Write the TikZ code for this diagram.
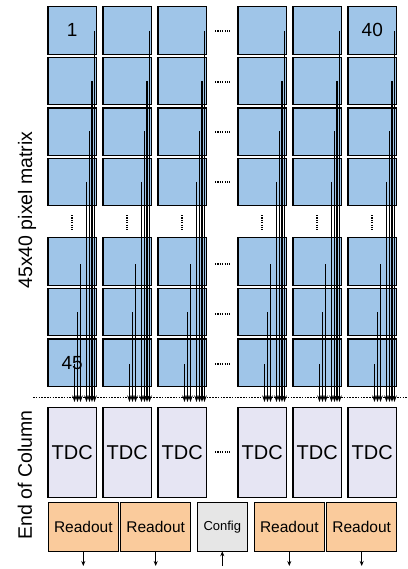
\documentclass[tikz,border=0pt]{standalone}
\usepackage{fontspec}
\setmainfont{Liberation Sans}
\usetikzlibrary{arrows.meta}
\definecolor{pixblue}{HTML}{9FC5E8}
\definecolor{tdcfill}{HTML}{E6E5F3}
\definecolor{rofill}{HTML}{FACB9C}
\definecolor{cfgfill}{HTML}{E6E6E6}
\begin{document}
\begin{tikzpicture}[x=1pt,y=-1pt,
 box/.style={draw=black,line width=1.1pt,anchor=north west,inner sep=0pt,outer sep=0pt},
 pix/.style={box,fill=pixblue,minimum width=48.5pt,minimum height=47.5pt},
 tdc/.style={box,fill=tdcfill,minimum width=48.5pt,minimum height=90pt,font=\fontsize{20}{22}\selectfont},
 ro/.style={box,fill=rofill,minimum width=70pt,minimum height=48.5pt,font=\fontsize{15.5}{17}\selectfont},
 cfg/.style={box,fill=cfgfill,minimum width=50pt,minimum height=48.5pt,font=\fontsize{13}{15}\selectfont},
 num/.style={font=\fontsize{19}{21}\selectfont,inner sep=0pt},
 side/.style={font=\fontsize{19.5}{22}\selectfont,rotate=90,inner sep=0pt},
 wire/.style={line width=1.1pt,-{Stealth[length=6.5pt,width=4.5pt]}},
 hdots/.style={line width=1.3pt,dash pattern=on 1.2pt off 1.2pt},
 sep/.style={line width=0.8pt,dash pattern=on 1.6pt off 1.2pt},
 io/.style={line width=0.9pt,-{Stealth[length=5pt,width=4pt]}}
]
\useasboundingbox (0,0) rectangle (407,569);
% pixels
\foreach \c/\x in {1/48,2/103,3/158,4/238,5/293,6/348}{
  \foreach \r/\y in {1/6.7,2/57.3,3/108,4/158.3,5/237.7,6/288.3,7/339}{
    \node[pix] (p-\c-\r) at (\x,\y) {};
  }
  \coordinate (vt-\c) at (\x+24,215);
  \coordinate (vb-\c) at (\x+24,230);
  \draw[hdots] (vt-\c) -- (vb-\c);
  \node[tdc] (t-\c) at (\x,407.3) {TDC};
}
% pixel numbers
\node[num] (n1) at (p-1-1.center) {1};
\node[num] (n40) at (p-6-1.center) {40};
\node[num] (n45) at (p-1-7.center) {45};
% horizontal dots between column groups
\foreach \r/\y in {1/31,2/82,3/132,4/182,5/264,6/314,7/364}{
  \coordinate (hl-\r) at (215,\y);
  \coordinate (hr-\r) at (230,\y);
  \draw[hdots] (hl-\r) -- (hr-\r);
}
\coordinate (tl) at (215,452);
\coordinate (tr) at (230,452);
\draw[hdots] (tl) -- (tr);
% wires
\foreach \c/\x in {1/48,2/103,3/158,4/238,5/293,6/348}{
  \foreach \r/\y/\o in {1/31/46.5,2/81/44,3/131.5/41.5,4/182/38.5,5/264/32.5,6/312/29.5,7/364/26.5}{
    \coordinate (ws-\c-\r) at (\x+\o,\y);
    \coordinate (we-\c-\r) at (\x+\o,402);
    \draw[wire] (ws-\c-\r) -- (we-\c-\r);
  }
}
% separator line
\coordinate (dl) at (33,397.3);
\coordinate (dr) at (407,397.3);
\draw[sep] (dl) -- (dr);
% readout / config
\node[ro] (r1) at (48.3,502.7) {Readout};
\node[ro] (r2) at (120.7,502.7) {Readout};
\node[cfg] (cf) at (197.3,502.7) {Config};
\node[ro] (r3) at (254.3,502.7) {Readout};
\node[ro] (r4) at (326.7,502.7) {Readout};
\foreach \n in {r1,r2,r3,r4}{
  \coordinate (o-\n) at (\n.south |- 0,566);
  \draw[io] (\n.south) -- (o-\n);
}
\coordinate (ci) at (cf.south |- 0,566);
\draw[io] (ci) -- (cf.south);
% side labels
\node[side] (lm) at (27,210) {45x40 pixel matrix};
\node[side] (le) at (25,475) {End of Column};
\end{tikzpicture}
\end{document}
